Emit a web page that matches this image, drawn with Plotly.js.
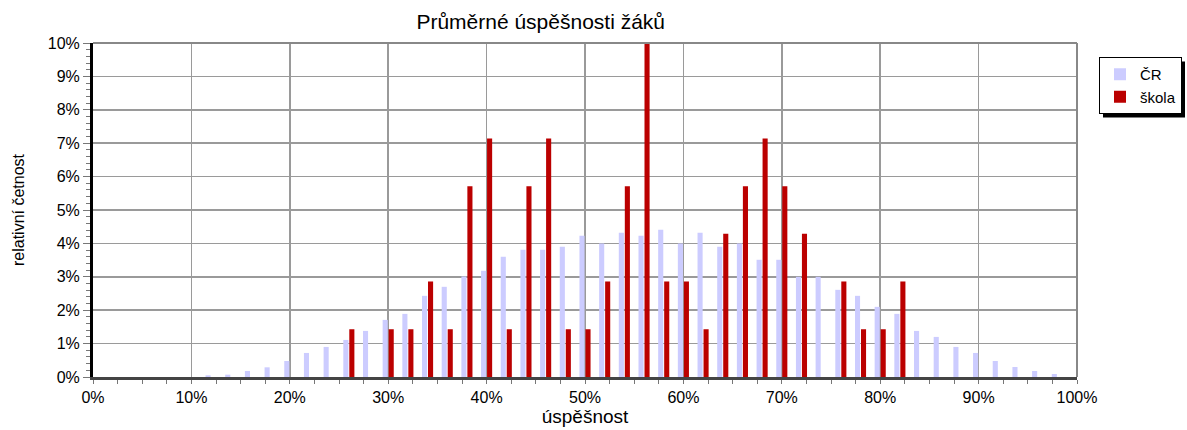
<!DOCTYPE html>
<html>
<head>
<meta charset="utf-8">
<script src="https://cdn.plot.ly/plotly-3.0.1.min.js"></script>
<style>
  html, body { margin: 0; padding: 0; background: #ffffff; }
  #chart { width: 1187px; height: 430px; }
</style>
</head>
<body>
<div id="chart"></div>
<script>
// úspěšnost (category centres, %)
const uspesnost = [12,14,16,18,20,22,24,26,28,30,32,34,36,38,40,42,44,46,48,50,52,54,56,58,60,62,64,66,68,70,72,74,76,78,80,82,84,86,88,90,92,94,96,98];
// ČR relative frequency (%)
const cr = [0.05,0.07,0.18,0.29,0.48,0.72,0.90,1.11,1.38,1.71,1.89,2.43,2.70,3.01,3.18,3.60,3.81,3.81,3.90,4.23,4.00,4.32,4.23,4.41,4.00,4.32,3.90,4.00,3.51,3.51,3.00,3.00,2.61,2.43,2.10,1.89,1.38,1.20,0.90,0.72,0.48,0.30,0.18,0.09];
// škola relative frequency (%)
const skola = [0,0,0,0,0,0,0,1.43,0,1.43,1.43,2.86,1.43,5.71,7.14,1.43,5.71,7.14,1.43,1.43,2.86,5.71,10.0,2.86,2.86,1.43,4.29,5.71,7.14,5.71,4.29,0,2.86,1.43,1.43,2.86,0,0,0,0,0,0,0,0];

const seriesNames = ['ČR', 'škola'];
const chartTitle = 'Průměrné úspěšnosti žáků';
const xTitle = 'úspěšnost';
const yTitle = 'relativní četnost';

const FONT = 'Liberation Sans, Arial, sans-serif';
const M = { l: 93, r: 110, t: 43, b: 53 };
const W = 1187, H = 430;
const PW = W - M.l - M.r, PH = H - M.t - M.b;
const LEGEND_RIGHT = 1181, LEGEND_TOP = 57;

const traces = [
  { type: 'bar', name: seriesNames[0], x: uspesnost, y: cr,
    marker: { color: '#CCCCFF', line: { width: 0 } }, hoverinfo: 'x+y' },
  { type: 'bar', name: seriesNames[1], x: uspesnost, y: skola,
    marker: { color: '#BB0000', line: { width: 0 } }, hoverinfo: 'x+y' }
];

const toX = px => (px - M.l) / PW;
const toY = py => (H - M.b - py) / PH;

const layout = {
  width: W, height: H,
  margin: { l: M.l, r: M.r, t: M.t, b: M.b, autoexpand: false },
  paper_bgcolor: '#ffffff', plot_bgcolor: '#ffffff',
  font: { family: FONT, color: '#000000', size: 16 },
  barmode: 'group', bargap: 0.39, bargroupgap: 0.15,
  showlegend: true,
  title: { text: chartTitle, font: { family: FONT, size: 21, color: '#000' },
           x: 0.455, xref: 'paper', xanchor: 'center', y: 0.949, yref: 'container', yanchor: 'middle' },
  xaxis: {
    range: [0, 100], dtick: 10, tick0: 0, ticksuffix: '%',
    showgrid: true, gridcolor: '#9a9a9a', gridwidth: 1.5,
    zeroline: false, automargin: false,
    showline: true, linecolor: '#444444', linewidth: 3,
    ticks: 'outside', ticklen: 4, tickcolor: '#777', tickwidth: 1,
    minor: { dtick: 2.5, ticks: 'outside', ticklen: 4, tickcolor: '#777', showgrid: false },
    tickfont: { family: FONT, size: 16 },
    title: { text: xTitle, font: { family: FONT, size: 19 }, standoff: 4 }
  },
  yaxis: {
    range: [0, 10], dtick: 1, tick0: 0, ticksuffix: '%',
    showgrid: true, gridcolor: '#9a9a9a', gridwidth: 1.5,
    zeroline: false, automargin: false,
    showline: true, linecolor: '#000000', linewidth: 3,
    ticks: 'outside', ticklen: 7, tickcolor: '#777', tickwidth: 1,
    minor: { dtick: 0.2, ticks: 'outside', ticklen: 4, tickcolor: '#777', showgrid: false },
    tickfont: { family: FONT, size: 16 },
    title: { text: yTitle, font: { family: FONT, size: 16 }, standoff: 20 }
  },
  legend: {
    x: toX(1100), xanchor: 'left', y: toY(LEGEND_TOP), yanchor: 'top',
    bgcolor: '#ffffff', bordercolor: '#000000', borderwidth: 1,
    font: { family: FONT, size: 15 }, itemwidth: 30, tracegroupgap: 0
  },
  shapes: [
    { type: 'line', xref: 'paper', yref: 'paper', x0: 0, x1: 1, y0: 1, y1: 1,
      line: { color: '#888888', width: 2 }, layer: 'above' },
    { type: 'line', xref: 'paper', yref: 'paper', x0: 1, x1: 1, y0: 0, y1: 1,
      line: { color: '#888888', width: 2 }, layer: 'above' }
  ]
};

Plotly.newPlot('chart', traces, layout, { staticPlot: true, displayModeBar: false }).then(function (gd) {
  const bg = gd.querySelector('.legend rect.bg');
  if (!bg) return;
  const r = bg.getBoundingClientRect();
  const c = gd.getBoundingClientRect();
  const w = r.width, h = r.height;
  const left = LEGEND_RIGHT - w;
  const top = r.top - c.top;
  const off = 4;
  const shapes = layout.shapes.slice();
  // drop shadow behind the legend box
  shapes.push({ type: 'rect', xref: 'paper', yref: 'paper',
    x0: toX(left + off), x1: toX(left + w + off),
    y0: toY(top + off), y1: toY(top + h + off),
    fillcolor: '#000000', line: { width: 0 }, layer: 'above' });
  return Plotly.relayout(gd, { 'legend.x': toX(left), shapes: shapes });
});
</script>
</body>
</html>
